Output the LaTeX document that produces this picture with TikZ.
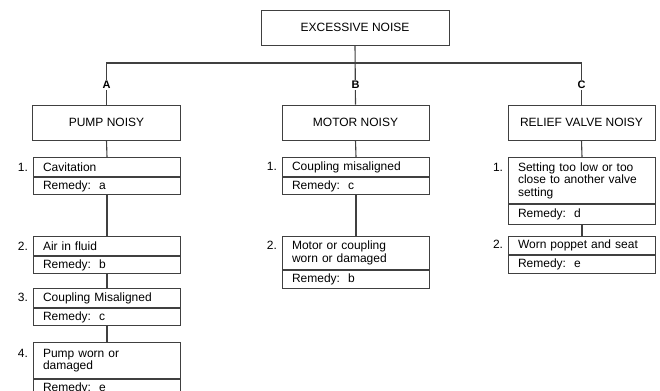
\documentclass[tikz,border=0pt]{standalone}
\usepackage{fontspec}
\setmainfont{Liberation Sans}
\begin{document}
\begin{tikzpicture}[x=1bp,y=-1bp,
  every node/.style={font=\fontsize{12bp}{12.5bp}\selectfont, text=black},
  frame/.style={draw=black!75, line width=1bp},
  conn/.style={draw=black!75, line width=1.1bp},
  topbox/.style={frame, rectangle, minimum width=188bp, minimum height=35bp, inner sep=2bp},
  head/.style={frame, rectangle, minimum width=147bp, minimum height=35bp, inner sep=2bp},
  cause/.style={frame, rectangle, anchor=north west, text width=128bp, inner xsep=9.5bp, inner ysep=1.5bp, align=left},
  remedy/.style={frame, rectangle, anchor=north west, text width=128bp, inner xsep=9.5bp, inner ysep=1.5bp, align=left},
  letter/.style={fill=white, inner sep=1.5bp, font=\fontsize{11bp}{12bp}\selectfont\bfseries}
]
\useasboundingbox (0,0) rectangle (660,390);
\clip (0,0) rectangle (660,390);
\fill[white] (0,0) rectangle (660,390);

\newcommand\causebox[8]{%
  \node[cause, minimum height=#4bp] (#1) at (#2,#3) {\llap{#5\hspace{15bp}}#6};
  \node[remedy, minimum height=#8bp] (#1r) at (#1.south west) {Remedy:\ \ #7};
}

% top
\node[topbox] (top) at (355,27.5) {EXCESSIVE NOISE};

% headers
\node[head] (pump) at (106.5,122.5) {PUMP NOISY};
\node[head] (motor) at (355.5,122.5) {MOTOR NOISY};
\node[head] (relief) at (581.5,122.5) {RELIEF VALVE NOISY};

\coordinate (bus) at (0,63);
\draw[conn] (top.south) -- (motor.north);
\draw[conn] (pump.north) -- (pump.north |- bus) -- (relief.north |- bus) -- (relief.north);

\node[letter] (la) at (pump.north |- 0,85) {A};
\node[letter] (lb) at (motor.north |- 0,85) {B};
\node[letter] (lc) at (relief.north |- 0,85) {C};

% pump column
\causebox{p1}{33}{157}{19}{1.}{Cavitation}{a}{17}
\causebox{p2}{33}{236}{19}{2.}{Air in fluid}{b}{17}
\causebox{p3}{33}{288}{19}{3.}{Coupling Misaligned}{c}{17}
\causebox{p4}{33}{342}{36}{4.}{Pump worn or\\damaged}{e}{18}

% motor column
\causebox{m1}{282}{157}{19}{1.}{Coupling misaligned}{c}{17}
\causebox{m2}{282}{236}{33}{2.}{Motor or coupling\\worn or damaged}{b}{18}

% relief column
\causebox{r1}{508}{157}{46}{1.}{Setting too low or too\\close to another valve\\setting}{d}{20}
\causebox{r2}{508}{236}{18}{2.}{Worn poppet and seat}{e}{18}

% connectors
\draw[conn] (pump.south) -- (p1.north);
\draw[conn] (p1r.south) -- (p2.north);
\draw[conn] (p2r.south) -- (p3.north);
\draw[conn] (p3r.south) -- (p4.north);
\draw[conn] (motor.south) -- (m1.north);
\draw[conn] (m1r.south) -- (m2.north);
\draw[conn] (relief.south) -- (r1.north);
\draw[conn] (r1r.south) -- (r2.north);
\end{tikzpicture}
\end{document}
